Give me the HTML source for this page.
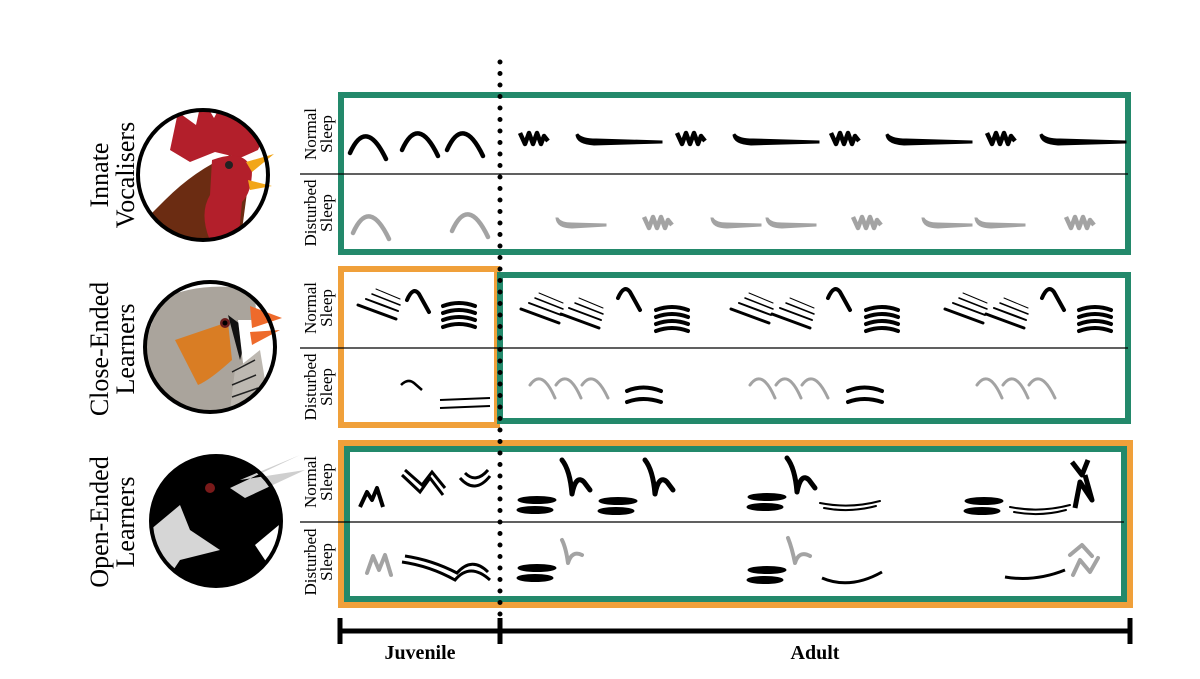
<!DOCTYPE html>
<html><head><meta charset="utf-8"><style>
html,body{margin:0;padding:0;background:#fff}
svg{display:block}
text{font-family:"Liberation Serif",serif}
</style></head><body>
<svg width="1200" height="679" viewBox="0 0 1200 679" xmlns="http://www.w3.org/2000/svg">
<defs>
<path id="arc" d="M0,28 Q16,-8 36,34" fill="none" stroke-width="4.5" stroke-linecap="round"/>
<path id="zz" d="M0,3 L5,14 L9,3 L13,14 L17,3 L21,14 L24,6 L28,11" fill="none" stroke-width="4.5" stroke-linejoin="round"/>
<path id="lng" d="M0,-5 Q1,4 18,5 L86,3 L86,1 L20,-1 Q6,-1 2,-6 Z"/>
<path id="tap" d="M0,-6 Q1,4 16,4 L50,2 L50,0 L16,-1 Q5,-1 2,-6 Z"/>
<g id="sl" fill="none" stroke-linecap="round"><path d="M0,12 L38,26" stroke-width="3"/><path d="M8,6 L40,18" stroke-width="2"/><path d="M14,1 L42,12" stroke-width="1.5"/><path d="M18,-4 L42,6" stroke-width="1"/></g>
<path id="hook" d="M0,10 Q6,-4 12,4 L22,22" fill="none" stroke-width="4" stroke-linecap="round"/>
<g id="stk" fill="none" stroke-width="4" stroke-linecap="round"><path d="M2,4 Q18,-2 34,4"/><path d="M2,11 Q18,5 34,11"/><path d="M2,18 Q18,12 34,18"/><path d="M2,25 Q18,19 34,25"/></g>
<g id="bars"><ellipse cx="19" cy="0" rx="19" ry="3.5"/><ellipse cx="17" cy="10" rx="18" ry="3.5"/></g>
<g id="bars2" fill="none" stroke-width="4" stroke-linecap="round"><path d="M2,4 Q18,-3 36,4"/><path d="M2,15 Q18,9 36,15"/></g>
<path id="hh" d="M0,0 Q8,10 10,34 Q14,14 22,22 L28,30" fill="none" stroke-width="5" stroke-linecap="round" stroke-linejoin="round"/>
<g id="dbl" fill="none" stroke-width="2" stroke-linecap="round"><path d="M0,2 Q30,8 60,0"/><path d="M4,7 Q30,12 56,5"/></g>
</defs>

<rect x="341" y="95" width="787" height="157" fill="none" stroke="#23896b" stroke-width="6"/>
<rect x="341" y="269" width="156" height="156" fill="none" stroke="#f0a03a" stroke-width="6"/>
<rect x="500" y="275" width="628" height="146" fill="none" stroke="#23896b" stroke-width="6"/>
<rect x="341" y="443" width="789" height="162" fill="none" stroke="#f0a03a" stroke-width="6"/>
<rect x="347" y="449" width="777" height="150" fill="none" stroke="#23896b" stroke-width="6"/>
<line x1="300" y1="174" x2="1128" y2="174" stroke="#000" stroke-width="1.2"/>
<line x1="300" y1="348" x2="1128" y2="348" stroke="#000" stroke-width="1.2"/>
<line x1="300" y1="522" x2="1124" y2="522" stroke="#000" stroke-width="1.2"/>
<line x1="500" y1="62" x2="500" y2="630" stroke="#000" stroke-width="5" stroke-linecap="round" stroke-dasharray="0 11.5"/>

<g stroke="#000" stroke-width="5"><line x1="340" y1="631" x2="1130" y2="631"/><line x1="340" y1="618" x2="340" y2="644"/><line x1="500" y1="618" x2="500" y2="644"/><line x1="1130" y1="618" x2="1130" y2="644"/></g>
<text x="420" y="659" font-size="20" font-weight="bold" text-anchor="middle">Juvenile</text>
<text x="815" y="659" font-size="20" font-weight="bold" text-anchor="middle">Adult</text>

<g font-size="26" text-anchor="middle">
<text transform="translate(108,175) rotate(-90)">Innate</text><text transform="translate(134,175) rotate(-90)">Vocalisers</text>
<text transform="translate(108,349) rotate(-90)">Close-Ended</text><text transform="translate(134,349) rotate(-90)">Learners</text>
<text transform="translate(108,522) rotate(-90)">Open-Ended</text><text transform="translate(134,522) rotate(-90)">Learners</text>
</g>
<g font-size="17" text-anchor="middle">
<text transform="translate(316,134) rotate(-90)">Normal</text><text transform="translate(332,134) rotate(-90)">Sleep</text>
<text transform="translate(316,213) rotate(-90)">Disturbed</text><text transform="translate(332,213) rotate(-90)">Sleep</text>
<text transform="translate(316,308) rotate(-90)">Normal</text><text transform="translate(332,308) rotate(-90)">Sleep</text>
<text transform="translate(316,387) rotate(-90)">Disturbed</text><text transform="translate(332,387) rotate(-90)">Sleep</text>
<text transform="translate(316,482) rotate(-90)">Normal</text><text transform="translate(332,482) rotate(-90)">Sleep</text>
<text transform="translate(316,562) rotate(-90)">Disturbed</text><text transform="translate(332,562) rotate(-90)">Sleep</text>
</g>

<clipPath id="c1"><circle cx="203" cy="175" r="64"/></clipPath>
<clipPath id="c2"><circle cx="210" cy="347" r="64"/></clipPath>
<clipPath id="c3"><circle cx="216" cy="521" r="64"/></clipPath>
<g clip-path="url(#c1)">
<path d="M135,230 L165,200 Q195,170 230,155 L250,170 L240,245 L135,245 Z" fill="#6b2c12"/>
<path d="M170,150 L178,112 L196,125 L202,98 L214,118 L226,96 L234,120 L250,104 L252,130 L268,126 L258,150 L240,158 L215,152 L190,162 Z" fill="#b31f2b"/>
<path d="M212,160 Q245,148 252,170 Q252,192 242,202 L238,245 L212,245 Q198,215 210,195 Z" fill="#b31f2b"/>
</g>
<path d="M246,162 L274,154 L252,172 Z M248,180 L272,186 L250,190 Z" fill="#f2a619"/>
<circle cx="229" cy="165" r="4" fill="#222"/>
<g clip-path="url(#c2)">
<path d="M146,340 L160,300 Q200,280 255,290 L260,410 L146,410 Z" fill="#aaa49c"/>
<path d="M175,340 L228,322 L232,360 Q210,380 198,385 Z" fill="#d97d24"/>
<path d="M228,315 L240,360 L248,330 Z" fill="#111"/>
<path d="M238,320 L258,320 L260,360 L245,380 Z" fill="#fff"/>
<path d="M235,370 L260,350 L270,410 L230,410 Z" fill="#bdb8b1"/>
<g stroke="#222" stroke-width="1.5"><line x1="232" y1="372" x2="255" y2="360"/><line x1="232" y1="385" x2="256" y2="375"/><line x1="232" y1="397" x2="258" y2="388"/></g>
</g>
<path d="M250,306 L282,318 L252,328 Z M250,332 L280,330 L252,345 Z" fill="#ee6a2b"/>
<circle cx="225" cy="323" r="5" fill="#6b1e1e"/><circle cx="225" cy="323" r="2.5" fill="#000"/>
<g clip-path="url(#c3)">
<rect x="150" y="455" width="135" height="135" fill="#000"/>
<path d="M150,530 L180,505 L190,530 L220,550 L180,560 L160,590 L150,590 Z" fill="#d6d6d6"/>
<path d="M255,545 L285,520 L285,590 Z" fill="#fff"/>
</g>
<path d="M230,488 L300,455 L240,480 L305,470 L245,498 Z" fill="#cfcfcf"/>
<circle cx="210" cy="488" r="5" fill="#7a1a1a"/>
<g fill="none" stroke="#000" stroke-width="4">
<circle cx="203" cy="175" r="65"/><circle cx="210" cy="347" r="65"/><circle cx="216" cy="521" r="65"/>
</g>

<g stroke="#000" fill="#000">
<use href="#arc" x="350" y="125"/><use href="#arc" x="402" y="122"/><use href="#arc" x="447" y="122"/>
<use href="#zz" x="520" y="130"/><use href="#lng" x="576" y="140"/>
<use href="#zz" x="677" y="130"/><use href="#lng" x="733" y="140"/>
<use href="#zz" x="831" y="130"/><use href="#lng" x="886" y="140"/>
<use href="#zz" x="987" y="130"/><use href="#lng" x="1040" y="140"/>
</g>
<g stroke="#a3a3a3" fill="#a3a3a3">
<use href="#arc" x="353" y="205"/><use href="#arc" x="452" y="203"/>
<use href="#tap" x="556" y="224"/><use href="#zz" x="644" y="214"/>
<use href="#tap" x="711" y="224"/><use href="#tap" x="766" y="224"/>
<use href="#zz" x="853" y="214"/><use href="#tap" x="922" y="224"/><use href="#tap" x="975" y="224"/>
<use href="#zz" x="1066" y="214"/>
</g>
<g stroke="#000" fill="#000">
<use href="#sl" x="358" y="293"/><use href="#hook" x="407" y="290"/><use href="#stk" x="441" y="302"/>
<use href="#sl" x="521" y="297"/><use href="#sl" x="561" y="302"/><use href="#hook" x="618" y="288"/><use href="#stk" x="654" y="306"/>
<use href="#sl" x="731" y="297"/><use href="#sl" x="772" y="302"/><use href="#hook" x="828" y="288"/><use href="#stk" x="864" y="306"/>
<use href="#sl" x="945" y="297"/><use href="#sl" x="986" y="302"/><use href="#hook" x="1042" y="288"/><use href="#stk" x="1077" y="306"/>
<path d="M401,385 Q408,378 414,383 L422,390" fill="none" stroke-width="2.5"/>
<g fill="none" stroke-width="2"><path d="M440,400 L490,398"/><path d="M440,408 L490,406"/></g>
<use href="#bars2" x="625" y="387"/><use href="#bars2" x="846" y="387"/>
</g>
<g stroke="#a3a3a3" stroke-width="3" fill="none" stroke-linecap="round">
<path d="M530,385 Q542,368 555,398 M556,385 Q568,368 581,398 M582,385 Q594,368 608,398"/>
<path d="M750,385 Q762,368 775,398 M776,385 Q788,368 801,398 M802,385 Q814,368 828,398"/>
<path d="M977,385 Q989,368 1002,398 M1003,385 Q1015,368 1028,398 M1029,385 Q1041,368 1055,398"/>
</g>
<g stroke="#000" fill="#000">
<path d="M360,507 L367,492 L372,500 L377,488 L383,507" fill="none" stroke-width="4" stroke-linejoin="round"/>
<path d="M402,475 L420,492 L430,478 L443,495 M405,470 L422,485 L432,472 L445,488" fill="none" stroke-width="3"/>
<path d="M460,478 Q475,495 490,476 M465,473 Q476,484 488,470" fill="none" stroke-width="3"/>
<use href="#bars" x="518" y="500"/><use href="#hh" x="562" y="460"/>
<use href="#bars" x="599" y="501"/><use href="#hh" x="645" y="460"/>
<use href="#bars" x="748" y="497"/><use href="#hh" x="787" y="458"/><use href="#dbl" x="820" y="501"/>
<use href="#bars" x="965" y="501"/><use href="#dbl" x="1010" y="505"/>
<path d="M1072,462 L1082,475 L1088,460 M1075,508 L1080,482 L1092,500 L1085,475" fill="none" stroke-width="5" stroke-linejoin="round"/>
<path d="M402,562 Q430,566 455,580 Q470,562 490,580 M405,556 Q432,560 457,573 Q472,556 488,572" fill="none" stroke-width="3"/>
<use href="#bars" x="518" y="568"/><use href="#bars" x="748" y="570"/>
<path d="M822,578 Q850,590 882,572" fill="none" stroke-width="3"/>
<path d="M1005,577 Q1035,582 1065,570" fill="none" stroke-width="3"/>
</g>
<g stroke="#a3a3a3" fill="none" stroke-linecap="round" stroke-linejoin="round">
<path d="M367,573 L373,556 L379,570 L385,555 L391,575" stroke-width="4"/>
<path d="M562,540 Q566,548 568,563 Q572,550 582,555" stroke-width="4"/>
<path d="M788,538 Q792,548 795,563 Q799,550 810,556" stroke-width="4"/>
<path d="M1070,555 L1082,545 L1092,556 M1073,575 L1080,560 L1090,572 L1098,558" stroke-width="4"/>
</g>
</svg>
</body></html>
